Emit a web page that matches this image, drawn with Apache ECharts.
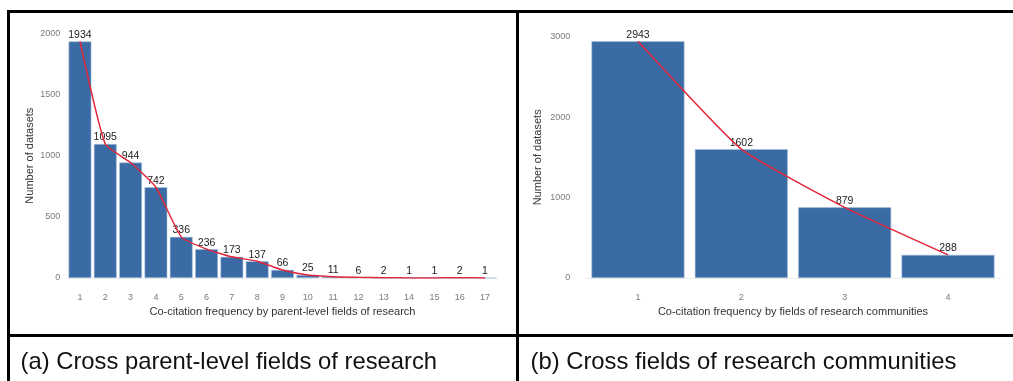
<!DOCTYPE html>
<html>
<head>
<meta charset="utf-8">
<script src="https://cdn.jsdelivr.net/npm/echarts@6/dist/echarts.min.js"></script>
<style>
html,body{margin:0;padding:0;background:#fff;}
#c{width:1013px;height:381px;}
</style>
</head>
<body>
<div id="c"></div>
<script>
var catsA = ['1','2','3','4','5','6','7','8','9','10','11','12','13','14','15','16','17'];
var valsA = [1934,1095,944,742,336,236,173,137,66,25,11,6,2,1,1,2,1];
var catsB = ['1','2','3','4'];
var valsB = [2943,1602,879,288];
var yTicksA = {min:0, max:2000, interval:500};
var yTicksB = {min:0, max:3000, interval:1000};
var xNameA = 'Co-citation frequency by parent-level fields of research';
var xNameB = 'Co-citation frequency by fields of research communities';
var yName = 'Number of datasets';
var captionA = '(a) Cross parent-level fields of research';
var captionB = '(b) Cross fields of research communities';

var FONT = '"Liberation Sans", Arial, sans-serif';
var BAR = '#3a6ba5';
var RED = '#e3263a';

function xAxis(idx, cats, name){
  return {
    type:'category', gridIndex:idx, data:cats,
    name:name, nameLocation:'middle', nameGap:28,
    nameTextStyle:{fontFamily:FONT, fontSize:11, color:'#333'},
    axisLine:{show:true, lineStyle:{color:'#ececec', width:1}},
    axisTick:{show:false},
    axisLabel:{interval:0, margin:15, fontFamily:FONT, fontSize:9, color:'#7a7a7a'},
    splitLine:{show:false}
  };
}
function yAxis(idx, t, gap, margin){
  return {
    type:'value', gridIndex:idx, min:t.min, max:t.max, interval:t.interval,
    name:yName, nameLocation:'middle', nameGap:gap, nameRotate:90,
    nameTextStyle:{fontFamily:FONT, fontSize:11, color:'#333'},
    axisLine:{show:false}, axisTick:{show:false},
    axisLabel:{margin:margin, fontFamily:FONT, fontSize:9, color:'#7a7a7a',
      formatter:function(v){return String(v);}},
    splitLine:{show:false}
  };
}
function bars(idx, vals, fs){
  return {
    type:'bar', xAxisIndex:idx, yAxisIndex:idx, data:vals,
    barCategoryGap:'10%',
    itemStyle:{color:BAR, borderColor:'#a9c3df', borderWidth:0.6},
    label:{show:true, position:'top', distance:1, fontFamily:FONT, fontSize:fs, color:'#222'},
    z:2
  };
}
function line(idx, vals){
  return {
    type:'line', xAxisIndex:idx, yAxisIndex:idx, data:vals,
    smooth:0.15, symbol:'none',
    lineStyle:{color:RED, width:1.5}, z:3, silent:true
  };
}

var chart = echarts.init(document.getElementById('c'), null, {renderer:'canvas'});
chart.setOption({
  animation:false,
  backgroundColor:'#fff',
  grid:[
    {left:67.3, top:33.3, width:430.4, height:244.7},
    {left:586.3, top:36.7, width:413.4, height:241.3}
  ],
  xAxis:[xAxis(0, catsA, xNameA), xAxis(1, catsB, xNameB)],
  yAxis:[yAxis(0, yTicksA, 32, 7), yAxis(1, yTicksB, 43, 16)],
  series:[bars(0, valsA, 10.5), line(0, valsA), bars(1, valsB, 10.5), line(1, valsB)],
  graphic:[
    {type:'rect', shape:{x:7, y:10, width:1006, height:3}, style:{fill:'#000'}},
    {type:'rect', shape:{x:7, y:10, width:3, height:371}, style:{fill:'#000'}},
    {type:'rect', shape:{x:516, y:10, width:3, height:371}, style:{fill:'#000'}},
    {type:'rect', shape:{x:7, y:334, width:1006, height:3}, style:{fill:'#000'}},
    {type:'text', x:20.5, y:362, style:{text:captionA, font:'23.8px ' + FONT, fill:'#111', textVerticalAlign:'middle'}},
    {type:'text', x:530.5, y:362, style:{text:captionB, font:'23.8px ' + FONT, fill:'#111', textVerticalAlign:'middle'}}
  ]
});
</script>
</body>
</html>
